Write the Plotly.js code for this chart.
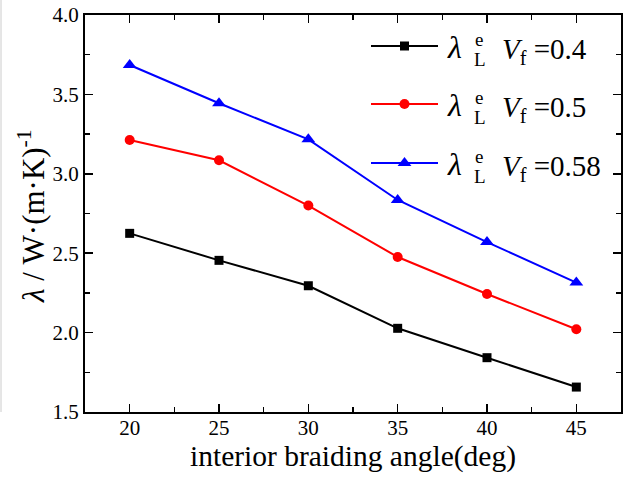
<!DOCTYPE html>
<html><head><meta charset="utf-8">
<script src="https://cdn.plot.ly/plotly-3.0.1.min.js"></script>
<style>html,body{margin:0;padding:0;background:#fff}</style>
</head><body>
<div id="chart" style="width:623px;height:477px"></div>
<script>
const angles = [20, 25, 30, 35, 40, 45];
const vf04 = [2.625, 2.455, 2.295, 2.027, 1.842, 1.657];
const vf05 = [3.213, 3.085, 2.800, 2.476, 2.243, 2.021];
const vf058 = [3.685, 3.444, 3.217, 2.835, 2.570, 2.315];
const vfLabels = ["0.4", "0.5", "0.58"];
const xTitle = "interior braiding angle(deg)";
const yTitle = "<i>λ</i> / W·(m·K)<sup>-1</sup>";

const FONT = "'Liberation Serif', 'Times New Roman', serif";
const L = 85, R = 621, T = 15, B = 412;
const px2x = p => (p - L) / (R - L);
const px2y = p => (B - p) / (B - T);

function tr(y, name, color, symbol, size, leg){
  return {x: angles, y: y, name: name, type: 'scatter', mode: 'lines+markers', legend: leg,
    line: {color: color, width: 2}, marker: {color: color, symbol: symbol, size: size}};
}
const data = [
  tr(vf04, ' ', '#000000', 'square', 9, 'legend'),
  tr(vf05, ' ', '#ff0000', 'circle', 10, 'legend2'),
  tr(vf058, ' ', '#0000ff', 'triangle-up', 12, 'legend3')
];
const rowY = [46, 104, 163];
function leg(i){
  return {x: px2x(366), y: px2y(rowY[i]), xanchor: 'left', yanchor: 'middle',
    bgcolor: 'rgba(0,0,0,0)', itemwidth: 67, font: {family: FONT, size: 10}};
}
const annotations = [];
rowY.forEach((ry, i) => {
  annotations.push({xref: 'paper', yref: 'paper', x: px2x(445), y: px2y(ry + 1), xanchor: 'left', yanchor: 'middle',
    text: '<i>λ</i>', showarrow: false, font: {family: FONT, size: 32}});
  annotations.push({xref: 'paper', yref: 'paper', x: px2x(479), y: px2y(ry - 7), xanchor: 'center', yanchor: 'middle',
    text: 'e', showarrow: false, font: {family: FONT, size: 19}});
  annotations.push({xref: 'paper', yref: 'paper', x: px2x(480), y: px2y(ry + 13), xanchor: 'center', yanchor: 'middle',
    text: 'L', showarrow: false, font: {family: FONT, size: 19}});
  annotations.push({xref: 'paper', yref: 'paper', x: px2x(500), y: px2y(ry + 5), xanchor: 'left', yanchor: 'middle',
    text: '<i>V</i><sub>f</sub> =' + vfLabels[i], showarrow: false, font: {family: FONT, size: 29}});
});
annotations.push({xref: 'paper', yref: 'paper', x: px2x(31), y: px2y(216), xanchor: 'center', yanchor: 'middle',
  textangle: -90, text: yTitle, showarrow: false, font: {family: FONT, size: 31}});
const layout = {
  width: 623, height: 477,
  margin: {l: L, r: 623 - R, t: T, b: 477 - B},
  paper_bgcolor: '#fff', plot_bgcolor: '#fff',
  font: {family: FONT, color: '#000', size: 21},
  showlegend: true,
  legend: leg(0), legend2: leg(1), legend3: leg(2),
  annotations: annotations,
  xaxis: {range: [17.5, 47.5], tickvals: angles, ticktext: angles.map(String),
    ticks: 'inside', ticklen: 8, tickwidth: 1.5, tickcolor: '#000', ticklabelstandoff: -4,
    minor: {ticks: 'inside', ticklen: 5, tickwidth: 1.5, tickcolor: '#000', dtick: 2.5, tick0: 17.5},
    showline: true, linecolor: '#000', linewidth: 2, mirror: 'ticks', showgrid: false, zeroline: false,
    tickfont: {family: FONT, size: 21},
    title: {text: xTitle, font: {family: FONT, size: 29.5}, standoff: 0}},
  yaxis: {range: [1.5, 4.0], dtick: 0.5, tickformat: '.1f',
    ticks: 'inside', ticklen: 8, tickwidth: 1.5, tickcolor: '#000',
    minor: {ticks: 'inside', ticklen: 5, tickwidth: 1.5, tickcolor: '#000', dtick: 0.25},
    showline: true, linecolor: '#000', linewidth: 2, mirror: 'ticks', showgrid: false, zeroline: false,
    tickfont: {family: FONT, size: 21}},
  shapes: [{type: 'line', xref: 'paper', yref: 'paper', x0: px2x(1), x1: px2x(1), y0: 0, y1: px2y(0),
    line: {color: '#cccccc', width: 1}}]
};
Plotly.newPlot('chart', data, layout, {displayModeBar: false, staticPlot: true});
</script>
</body></html>
